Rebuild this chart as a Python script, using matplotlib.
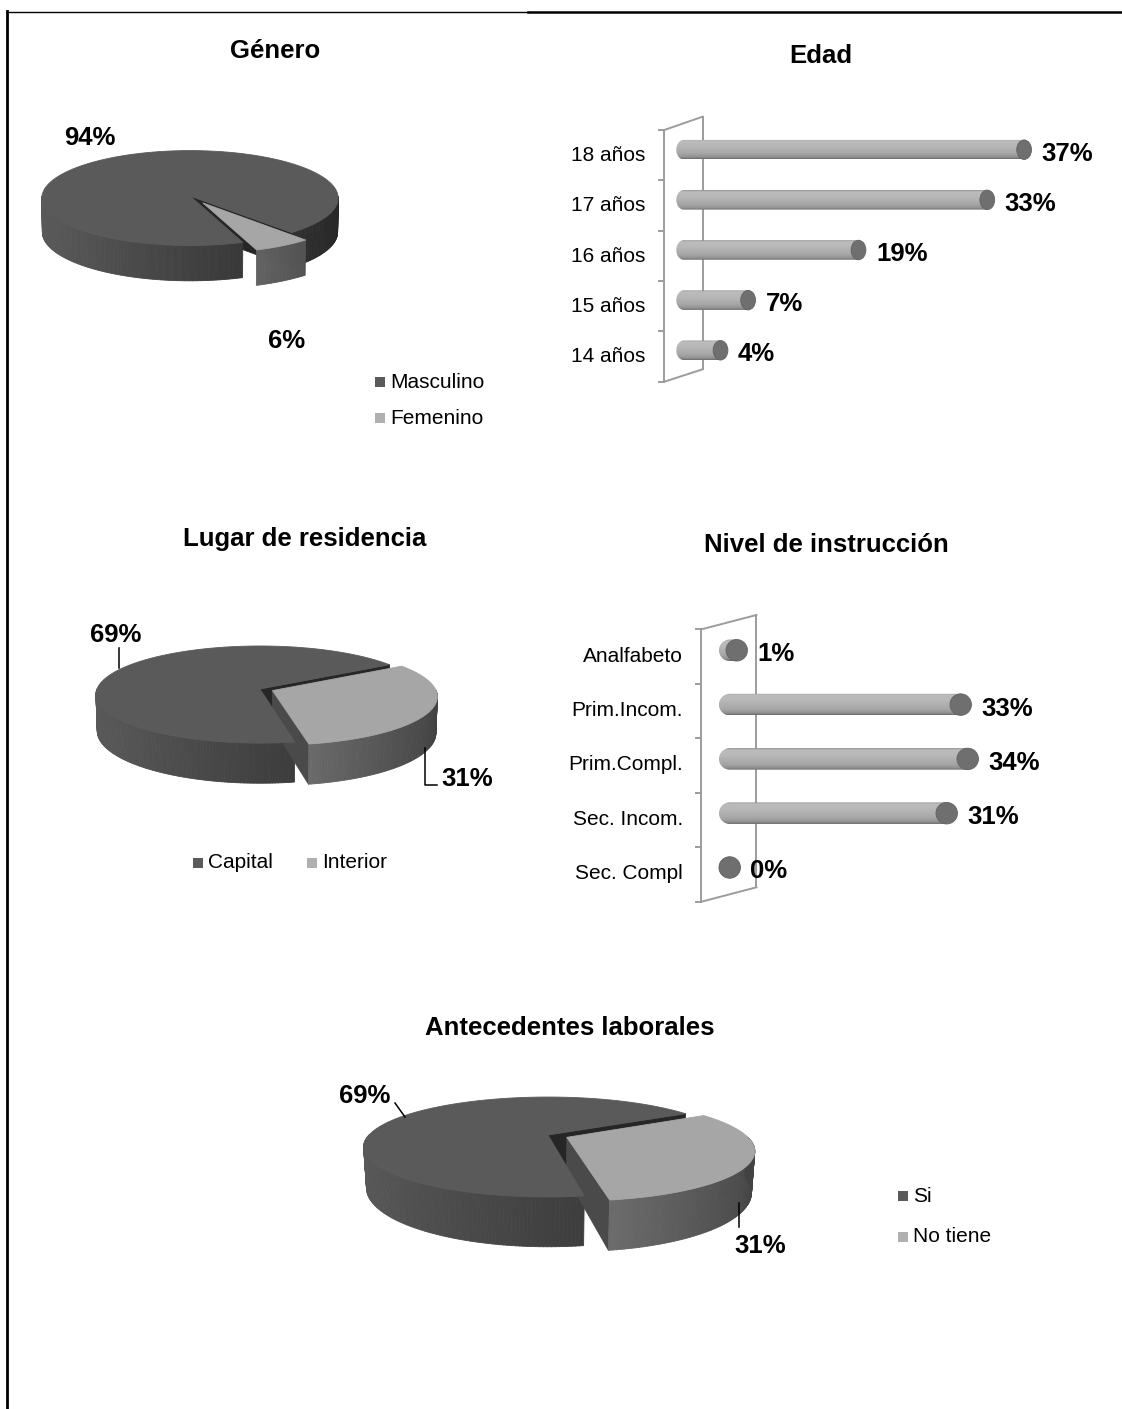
import numpy as np
import matplotlib
matplotlib.use("Agg")
import matplotlib.pyplot as plt
from matplotlib.patches import Ellipse, PathPatch, Rectangle
from matplotlib.path import Path
from matplotlib.collections import PolyCollection
from matplotlib.transforms import offset_copy

plt.rcParams['font.family'] = ['Liberation Sans', 'DejaVu Sans']

# ---------------- data ----------------
genero_labels = ['Masculino', 'Femenino']
genero_values = [94, 6]

edad_labels = ['14 años', '15 años', '16 años', '17 años', '18 años']
edad_values = [4, 7, 19, 33, 37]

residencia_labels = ['Capital', 'Interior']
residencia_values = [69, 31]

instruccion_labels = ['Sec. Compl', 'Sec. Incom.', 'Prim.Compl.', 'Prim.Incom.', 'Analfabeto']
instruccion_values = [0, 31, 34, 33, 1]

laboral_labels = ['Si', 'No tiene']
laboral_values = [69, 31]

# ---------------- figure ----------------
W, H, DPI = 1122, 1409, 100
fig = plt.figure(figsize=(W / DPI, H / DPI), dpi=DPI)
canvas = fig.add_axes([0, 0, 1, 1])
canvas.set_xlim(0, W)
canvas.set_ylim(H, 0)
canvas.axis('off')

FS_TXT = 15
FS_BIG = 18.5

DARK_TOP, LIGHT_TOP = '#5a5a5a', '#a6a6a6'
STYLE = {
    'dark': dict(top=DARK_TOP, wall='#262626', side=(90, 40)),
    'light': dict(top=LIGHT_TOP, wall='#4a4a4a', side=(165, 66)),
}


def gray(b):
    b = float(np.clip(b, 0, 255)) / 255.0
    return (b, b, b)


def pie3d(ax, values, kinds, cx, cy, R, sinphi, D0, depth, start, explode,
          walls=None):
    """Perspective 3-D pie; slices run clockwise from `start` (degrees)."""
    cosphi = np.sqrt(1 - sinphi ** 2)
    total = float(sum(values))
    if walls is None:
        walls = [True] * len(values)

    def proj(u, v, h):
        D = D0 + v * cosphi - h * sinphi
        f = D0 / D
        return (cx + u * f, cy - (v * sinphi + h * cosphi) * f)

    slices = []
    a = start
    for val, kind, ex, wl in zip(values, kinds, explode, walls):
        span = 360.0 * val / total
        a0, a1 = a - span, a
        mid = np.radians(0.5 * (a0 + a1))
        slices.append(dict(a0=a0, a1=a1, du=ex * R * np.cos(mid),
                           dv=ex * R * np.sin(mid), kind=kind, walls=wl))
        a = a0
    slices.sort(key=lambda s: -s['dv'])

    body_polys, body_cols, top_polys, top_cols = [], [], [], []
    for s in slices:
        st = STYLE[s['kind']]
        du, dv = s['du'], s['dv']

        def P(t, r, h):
            return proj(du + r * np.cos(t), dv + r * np.sin(t), h)

        n = max(int(abs(s['a1'] - s['a0'])), 2)
        ts = np.radians(np.linspace(s['a0'], s['a1'], n + 1))
        if s['walls']:
            cand = ((s['a1'], np.cos(np.radians(s['a1'])) < 0),
                    (s['a0'], np.cos(np.radians(s['a0'])) > 0))
            for ang, visible in cand:
                if visible:
                    t = np.radians(ang)
                    body_polys.append([P(t, 0, 0), P(t, R, 0), P(t, R, -depth), P(t, 0, -depth)])
                    body_cols.append(st['wall'])
        bm, bp = st['side']
        for t0, t1 in zip(ts[:-1], ts[1:]):
            tm = 0.5 * (t0 + t1)
            if np.sin(tm) < 0:
                body_polys.append([P(t0, R, 0), P(t1, R, 0), P(t1, R, -depth), P(t0, R, -depth)])
                body_cols.append(gray(bp + (bm - bp) * (1 - np.cos(tm)) / 2))
        top_polys.append([P(0, 0, 0)] + [P(t, R, 0) for t in ts])
        top_cols.append(st['top'])
    ax.add_collection(PolyCollection(body_polys, facecolors=body_cols, edgecolors=body_cols,
                                     linewidths=0.6, zorder=2))
    ax.add_collection(PolyCollection(top_polys, facecolors=top_cols, edgecolors=top_cols,
                                     linewidths=0.6, zorder=2))


def px_axes(x0, y0, x1, y1):
    return fig.add_axes([x0 / W, 1 - y1 / H, (x1 - x0) / W, (y1 - y0) / H])


GRAD = np.interp(np.linspace(0, 1, 64),
                 [0, 0.07, 0.35, 0.75, 0.92, 1.0],
                 [130, 188, 183, 165, 142, 105]).reshape(-1, 1)
CAP = '#6f6f6f'


def cylinder_chart(box, zero_px, ppu, base_px, step_px, labels, values,
                   bar_px, cap_px, label_right_px):
    x0, y0, x1, y1 = box
    ax = px_axes(*box)
    ax.axis('off')
    xlim = ((x0 - zero_px) / ppu, (x1 - zero_px) / ppu)
    ylim = ((base_px - y1) / step_px, (base_px - y0) / step_px)
    bh = bar_px / step_px
    cw = cap_px / ppu
    idx = np.arange(len(values))
    for v, y in zip(values, idx):
        top, bot = y + bh / 2, y - bh / 2
        t = np.linspace(np.pi / 2, 3 * np.pi / 2, 40)
        left = np.column_stack([cw / 2 * np.cos(t), y + bh / 2 * np.sin(t)])
        verts = np.vstack([[v, top], left, [v, bot], [v, top]])
        clip = PathPatch(Path(verts, closed=True), transform=ax.transData,
                         facecolor='none', edgecolor='none')
        ax.add_patch(clip)
        im = ax.imshow(GRAD, cmap='gray', vmin=0, vmax=255,
                       extent=(-cw, v + cw, bot, top), aspect='auto',
                       origin='upper', interpolation='bilinear', zorder=2)
        im.set_clip_path(clip)
        ax.add_patch(Ellipse((v, y), cw, bh, facecolor=CAP, edgecolor='#636363',
                             lw=0.6, zorder=3))
        tv = offset_copy(ax.transData, fig=fig, x=10, y=-4, units='dots')
        ax.text(v + cw / 2, y, f'{v}%', transform=tv, ha='left', va='center',
                fontsize=FS_BIG, fontweight='bold', zorder=4)
    tl = offset_copy(ax.transData, fig=fig, x=label_right_px - zero_px, y=-6, units='dots')
    for lab, y in zip(labels, idx):
        ax.text(0, y, lab, transform=tl, ha='right', va='center', fontsize=FS_TXT)
    ax.set_xlim(*xlim)
    ax.set_ylim(*ylim)
    return ax


def back_wall(xl, yl0, yl1, xr, yr0, yr1, ntick, tick_len):
    c = '#9c9c9c'
    canvas.plot([xl, xl], [yl0, yl1], color=c, lw=1.4, zorder=1)
    canvas.plot([xr, xr], [yr0, yr1], color=c, lw=1.4, zorder=1)
    canvas.plot([xl, xr], [yl0, yr0], color=c, lw=1.4, zorder=1)
    canvas.plot([xl, xr], [yl1, yr1], color=c, lw=1.4, zorder=1)
    for yt in np.linspace(yl0, yl1, ntick + 1):
        canvas.plot([xl - tick_len, xl], [yt, yt], color=c, lw=1.4, zorder=1)


def legend_entry(x, y, color, text):
    canvas.add_patch(Rectangle((x, y - 5), 10, 10, facecolor=color, edgecolor='none'))
    canvas.text(x + 15, y, text, ha='left', va='center', fontsize=FS_TXT)


# ---------------- frame ----------------
canvas.plot([7, 528], [12, 12], color='black', lw=1.0)
canvas.plot([528, W], [12, 12], color='black', lw=1.8)
canvas.plot([7, 7], [11, H], color='black', lw=2.0)

# ---------------- Género ----------------
canvas.text(275, 58, 'Género', ha='center', va='baseline', fontsize=FS_BIG, fontweight='bold')
pie3d(canvas, genero_values, ['dark', 'light'], cx=190, cy=196, R=148,
      sinphi=0.32, D0=3270, depth=36, start=290.0, explode=[0, 0.17],
      walls=[True, False])
canvas.text(90, 145, f'{genero_values[0]}%', ha='center', va='baseline',
            fontsize=FS_BIG, fontweight='bold')
canvas.text(287, 348, f'{genero_values[1]}%', ha='center', va='baseline',
            fontsize=FS_BIG, fontweight='bold')
legend_entry(375, 382, DARK_TOP, genero_labels[0])
legend_entry(375, 418, '#b0b0b0', genero_labels[1])

# ---------------- Edad ----------------
canvas.text(821, 62.7, 'Edad', ha='center', va='baseline', fontsize=FS_BIG, fontweight='bold')
back_wall(664.3, 130, 381.7, 702.6, 116.7, 369.3, len(edad_values), 5.5)
cylinder_chart((560, 100, 1115, 420), zero_px=683.7, ppu=9.2, base_px=350.3,
               step_px=50.15, labels=edad_labels, values=edad_values,
               bar_px=19.5, cap_px=14.8, label_right_px=645)

# ---------------- Lugar de residencia ----------------
canvas.text(305, 546, 'Lugar de residencia', ha='center', va='baseline',
            fontsize=FS_BIG, fontweight='bold')
pie3d(canvas, residencia_values, ['dark', 'light'], cx=260, cy=689, R=163,
      sinphi=0.294, D0=1364, depth=38, start=32.5 + 360 * residencia_values[0] / 100,
      explode=[0, 0.083])
canvas.text(116, 641.7, f'{residencia_values[0]}%', ha='center', va='baseline',
            fontsize=FS_BIG, fontweight='bold')
canvas.plot([119, 119], [648, 668], color='black', lw=1.1)
canvas.text(467, 786, f'{residencia_values[1]}%', ha='center', va='baseline',
            fontsize=FS_BIG, fontweight='bold')
canvas.plot([425, 425, 437], [748, 785, 785], color='black', lw=1.1)
legend_entry(193, 863, DARK_TOP, residencia_labels[0])
legend_entry(307, 863, '#b0b0b0', residencia_labels[1])

# ---------------- Nivel de instrucción ----------------
canvas.text(826, 552, 'Nivel de instrucción', ha='center', va='baseline',
            fontsize=FS_BIG, fontweight='bold')
back_wall(701.5, 629.3, 901.7, 756.4, 615, 887.3, len(instruccion_values), 5)
cylinder_chart((600, 600, 1115, 930), zero_px=729.7, ppu=7.0, base_px=867.5,
               step_px=54.3, labels=instruccion_labels, values=instruccion_values,
               bar_px=21.5, cap_px=21.5, label_right_px=683)

# ---------------- Antecedentes laborales ----------------
canvas.text(570, 1035, 'Antecedentes laborales', ha='center', va='baseline',
            fontsize=FS_BIG, fontweight='bold')
pie3d(canvas, laboral_values, ['dark', 'light'], cx=548, cy=1135, R=179,
      sinphi=0.263, D0=720, depth=41, start=30.5 + 360 * laboral_values[0] / 100,
      explode=[0, 0.115])
canvas.text(365, 1103, f'{laboral_values[0]}%', ha='center', va='baseline',
            fontsize=FS_BIG, fontweight='bold')
canvas.plot([395, 405], [1103, 1117], color='black', lw=1.1)
canvas.text(760, 1253, f'{laboral_values[1]}%', ha='center', va='baseline',
            fontsize=FS_BIG, fontweight='bold')
canvas.plot([739, 739], [1203, 1227], color='black', lw=1.1)
legend_entry(898, 1196, DARK_TOP, laboral_labels[0])
legend_entry(898, 1237, '#b0b0b0', laboral_labels[1])

fig.savefig('out.png', dpi=DPI)
